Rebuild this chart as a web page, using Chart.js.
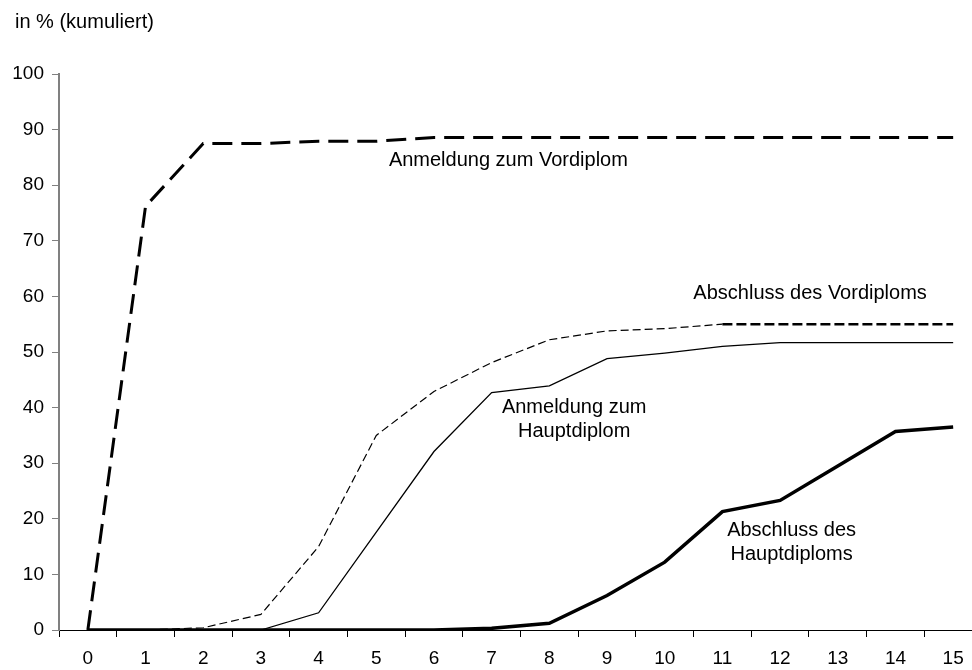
<!DOCTYPE html>
<html>
<head>
<meta charset="utf-8">
<script src="https://cdn.jsdelivr.net/npm/chart.js@4.4.1/dist/chart.umd.min.js"></script>
<style>
  html, body { margin: 0; padding: 0; background: #fff; overflow: hidden; }
  #wrap { position: absolute; left: 0; top: 0; width: 1000px; height: 670px; }
</style>
</head>
<body>
<div id="wrap"><canvas id="chart" width="1000" height="670"></canvas></div>
<script>
// Fachsemester (Kategorien)
const semester = ['0', '1', '2', '3', '4', '5', '6', '7', '8', '9', '10', '11', '12', '13', '14', '15'];

// kumulierte Anteile in %
const anmeldungVordiplom   = [0, 76.2, 87.5, 87.5, 87.9, 87.9, 88.6, 88.6, 88.6, 88.6, 88.6, 88.6, 88.6, 88.6, 88.6, 88.6];
const abschlussVordiplom   = [0, 0, 0.4, 2.8, 15.0, 35.0, 42.9, 48.1, 52.2, 53.8, 54.2, 55.0, 55.0, 55.0, 55.0, 55.0];
const anmeldungHauptdiplom = [0, 0, 0, 0, 3.1, 17.6, 32.1, 42.7, 43.9, 48.8, 49.8, 51.0, 51.7, 51.7, 51.7, 51.7];
const abschlussHauptdiplom = [0, 0, 0, 0, 0, 0, 0, 0.3, 1.2, 6.2, 12.2, 21.3, 23.3, 29.5, 35.7, 36.5];

const yTicks = [0, 10, 20, 30, 40, 50, 60, 70, 80, 90, 100];

// Beschriftungen an den Kurven (x = Semester, y = %)
const kurvenText = [
    { lines: ['Anmeldung zum Vordiplom'], x: 7.29, y: 84.4 },
    { lines: ['Abschluss des Vordiploms'], x: 12.52, y: 60.6 },
    { lines: ['Anmeldung zum', 'Hauptdiplom'], x: 8.43, y: 37.9 },
    { lines: ['Abschluss des', 'Hauptdiploms'], x: 12.2, y: 15.7 }
];

const FONT = '"Liberation Sans", Arial, sans-serif';

const textPlugin = {
    id: 'kurvenText',
    afterDatasetsDraw(chart) {
        const ctx = chart.ctx;
        const xs = chart.scales.x, ys = chart.scales.y;
        ctx.save();
        ctx.fillStyle = '#000';
        ctx.font = '20px ' + FONT;
        ctx.textBaseline = 'middle';
        ctx.textAlign = 'left';
        ctx.fillText('in % (kumuliert)', 15, 22);
        ctx.textAlign = 'center';
        kurvenText.forEach(t => {
            const px = xs.getPixelForValue(t.x);
            const py = ys.getPixelForValue(t.y);
            const lh = 24.5;
            const top = py - (t.lines.length - 1) * lh / 2;
            t.lines.forEach((l, i) => ctx.fillText(l, px, top + i * lh));
        });
        ctx.restore();
    }
};

new Chart(document.getElementById('chart'), {
    type: 'line',
    data: {
        labels: semester,
        datasets: [
            {
                label: 'Anmeldung zum Vordiplom',
                data: anmeldungVordiplom,
                borderColor: '#000',
                borderWidth: 3,
                borderDash: [20, 9]
            },
            {
                label: 'Abschluss des Vordiploms',
                data: abschlussVordiplom,
                borderColor: '#000',
                borderWidth: 1.2,
                borderDash: [8, 4],
                segment: {
                    borderWidth: c => c.p0DataIndex >= 11 ? 2.5 : 1.2,
                    borderDash: c => c.p0DataIndex >= 11 ? [10, 4] : [8, 4]
                }
            },
            {
                label: 'Anmeldung zum Hauptdiplom',
                data: anmeldungHauptdiplom,
                borderColor: '#000',
                borderWidth: 1.3
            },
            {
                label: 'Abschluss des Hauptdiploms',
                data: abschlussHauptdiplom,
                borderColor: '#000',
                borderWidth: 3.5
            }
        ]
    },
    options: {
        responsive: false,
        animation: false,
        layout: { padding: { left: 0, right: 18, top: 74, bottom: 0 } },
        elements: {
            point: { radius: 0, hoverRadius: 0 },
            line: { tension: 0, fill: false, borderCapStyle: 'butt', borderJoinStyle: 'miter' }
        },
        plugins: {
            legend: { display: false },
            tooltip: { enabled: false }
        },
        scales: {
            x: {
                type: 'category',
                offset: true,
                grid: {
                    offset: true,
                    drawOnChartArea: false,
                    drawTicks: true,
                    tickLength: 7,
                    tickColor: '#000',
                    lineWidth: 1
                },
                border: { display: true, color: '#000', width: 1 },
                ticks: {
                    color: '#000',
                    font: { family: FONT, size: 19 },
                    padding: 10,
                    maxRotation: 0,
                    autoSkip: false
                },
                afterFit: s => { s.height = 40; }
            },
            y: {
                min: 0,
                max: 100,
                afterBuildTicks: s => { s.ticks = yTicks.map(v => ({ value: v })); },
                grid: {
                    drawOnChartArea: false,
                    drawTicks: true,
                    tickLength: 7,
                    tickColor: '#808080',
                    lineWidth: 1
                },
                border: { display: true, color: '#808080', width: 2 },
                ticks: {
                    color: '#000',
                    font: { family: FONT, size: 19 },
                    padding: 8
                },
                afterFit: s => { s.width = 59; }
            }
        }
    },
    plugins: [textPlugin]
});
</script>
</body>
</html>
